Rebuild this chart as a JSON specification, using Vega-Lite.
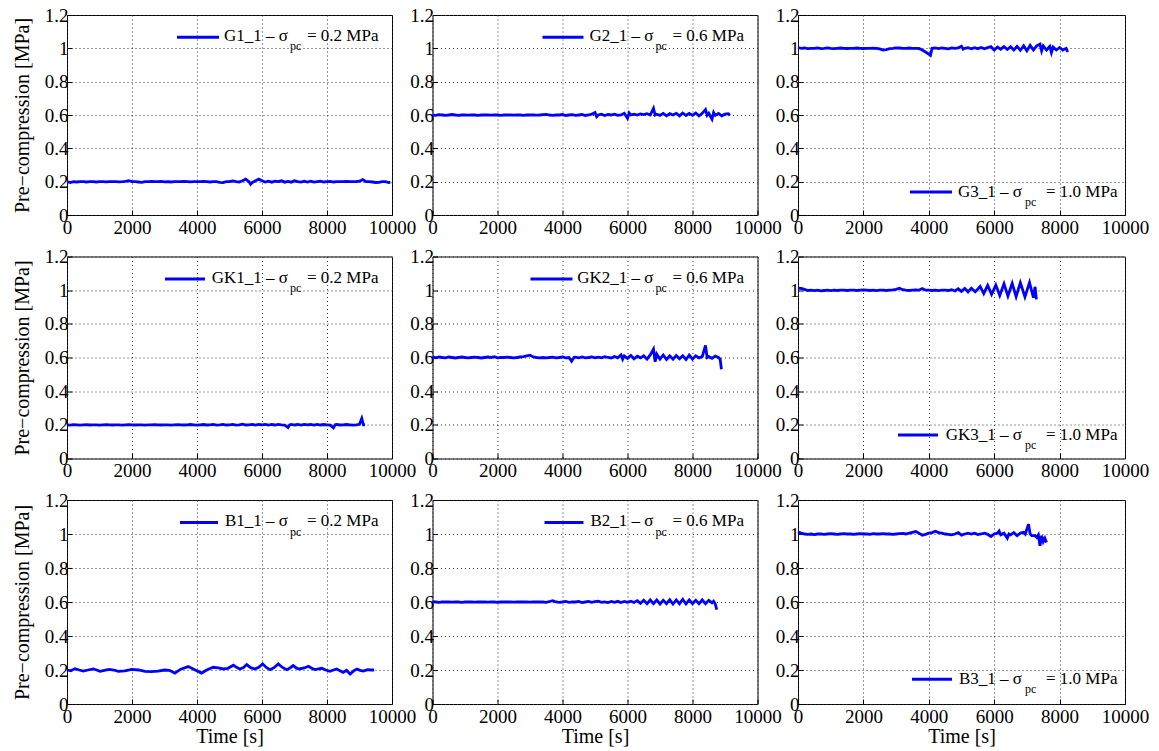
{
"$schema": "https://vega.github.io/schema/vega-lite/v6.json",
"background": "white",
"padding": {"left": 11, "top": 5, "right": 5, "bottom": 5},
"datasets": {"series": [
{"p":"G1","t":0,"v":0.2},{"p":"G1","t":100,"v":0.195},{"p":"G1","t":200,"v":0.2},{"p":"G1","t":300,"v":0.198},{"p":"G1","t":400,"v":0.2},{"p":"G1","t":500,"v":0.2},{"p":"G1","t":600,"v":0.198},{"p":"G1","t":700,"v":0.2},{"p":"G1","t":800,"v":0.2},{"p":"G1","t":900,"v":0.198},{"p":"G1","t":1000,"v":0.2},{"p":"G1","t":1100,"v":0.2},{"p":"G1","t":1200,"v":0.199},{"p":"G1","t":1300,"v":0.2},{"p":"G1","t":1400,"v":0.2},{"p":"G1","t":1500,"v":0.2},{"p":"G1","t":1600,"v":0.199},{"p":"G1","t":1700,"v":0.2},{"p":"G1","t":1800,"v":0.202},{"p":"G1","t":1900,"v":0.206},{"p":"G1","t":2000,"v":0.2},{"p":"G1","t":2100,"v":0.2},{"p":"G1","t":2200,"v":0.198},{"p":"G1","t":2300,"v":0.196},{"p":"G1","t":2400,"v":0.2},{"p":"G1","t":2500,"v":0.2},{"p":"G1","t":2600,"v":0.201},{"p":"G1","t":2700,"v":0.2},{"p":"G1","t":2800,"v":0.2},{"p":"G1","t":2900,"v":0.202},{"p":"G1","t":3000,"v":0.199},{"p":"G1","t":3100,"v":0.2},{"p":"G1","t":3200,"v":0.198},{"p":"G1","t":3300,"v":0.2},{"p":"G1","t":3400,"v":0.2},{"p":"G1","t":3500,"v":0.2},{"p":"G1","t":3600,"v":0.201},{"p":"G1","t":3700,"v":0.2},{"p":"G1","t":3800,"v":0.199},{"p":"G1","t":3900,"v":0.2},{"p":"G1","t":4000,"v":0.2},{"p":"G1","t":4100,"v":0.2},{"p":"G1","t":4200,"v":0.202},{"p":"G1","t":4300,"v":0.2},{"p":"G1","t":4400,"v":0.198},{"p":"G1","t":4500,"v":0.2},{"p":"G1","t":4600,"v":0.2},{"p":"G1","t":4700,"v":0.196},{"p":"G1","t":4800,"v":0.194},{"p":"G1","t":4900,"v":0.2},{"p":"G1","t":5000,"v":0.2},{"p":"G1","t":5100,"v":0.205},{"p":"G1","t":5200,"v":0.2},{"p":"G1","t":5300,"v":0.198},{"p":"G1","t":5400,"v":0.205},{"p":"G1","t":5500,"v":0.215},{"p":"G1","t":5600,"v":0.2},{"p":"G1","t":5650,"v":0.185},{"p":"G1","t":5700,"v":0.195},{"p":"G1","t":5800,"v":0.205},{"p":"G1","t":5900,"v":0.215},{"p":"G1","t":6000,"v":0.205},{"p":"G1","t":6100,"v":0.198},{"p":"G1","t":6200,"v":0.203},{"p":"G1","t":6300,"v":0.197},{"p":"G1","t":6400,"v":0.203},{"p":"G1","t":6500,"v":0.2},{"p":"G1","t":6600,"v":0.205},{"p":"G1","t":6700,"v":0.197},{"p":"G1","t":6800,"v":0.202},{"p":"G1","t":6900,"v":0.197},{"p":"G1","t":7000,"v":0.205},{"p":"G1","t":7100,"v":0.2},{"p":"G1","t":7200,"v":0.197},{"p":"G1","t":7300,"v":0.203},{"p":"G1","t":7400,"v":0.198},{"p":"G1","t":7500,"v":0.203},{"p":"G1","t":7600,"v":0.197},{"p":"G1","t":7700,"v":0.2},{"p":"G1","t":7800,"v":0.203},{"p":"G1","t":7900,"v":0.198},{"p":"G1","t":8000,"v":0.2},{"p":"G1","t":8100,"v":0.202},{"p":"G1","t":8200,"v":0.198},{"p":"G1","t":8300,"v":0.2},{"p":"G1","t":8400,"v":0.2},{"p":"G1","t":8500,"v":0.2},{"p":"G1","t":8600,"v":0.201},{"p":"G1","t":8700,"v":0.2},{"p":"G1","t":8800,"v":0.2},{"p":"G1","t":8900,"v":0.2},{"p":"G1","t":9000,"v":0.203},{"p":"G1","t":9100,"v":0.212},{"p":"G1","t":9200,"v":0.2},{"p":"G1","t":9300,"v":0.2},{"p":"G1","t":9400,"v":0.198},{"p":"G1","t":9500,"v":0.195},{"p":"G1","t":9600,"v":0.196},{"p":"G1","t":9700,"v":0.2},{"p":"G1","t":9800,"v":0.2},{"p":"G1","t":9900,"v":0.195},{"p":"G1","t":9950,"v":0.196},
{"p":"G2","t":0,"v":0.6},{"p":"G2","t":100,"v":0.598},{"p":"G2","t":200,"v":0.602},{"p":"G2","t":300,"v":0.6},{"p":"G2","t":400,"v":0.598},{"p":"G2","t":500,"v":0.6},{"p":"G2","t":600,"v":0.603},{"p":"G2","t":700,"v":0.6},{"p":"G2","t":800,"v":0.598},{"p":"G2","t":900,"v":0.6},{"p":"G2","t":1000,"v":0.6},{"p":"G2","t":1100,"v":0.599},{"p":"G2","t":1200,"v":0.601},{"p":"G2","t":1300,"v":0.6},{"p":"G2","t":1400,"v":0.598},{"p":"G2","t":1500,"v":0.6},{"p":"G2","t":1600,"v":0.6},{"p":"G2","t":1700,"v":0.601},{"p":"G2","t":1800,"v":0.599},{"p":"G2","t":1900,"v":0.6},{"p":"G2","t":2000,"v":0.6},{"p":"G2","t":2100,"v":0.598},{"p":"G2","t":2200,"v":0.6},{"p":"G2","t":2300,"v":0.601},{"p":"G2","t":2400,"v":0.6},{"p":"G2","t":2500,"v":0.599},{"p":"G2","t":2600,"v":0.6},{"p":"G2","t":2700,"v":0.6},{"p":"G2","t":2800,"v":0.598},{"p":"G2","t":2900,"v":0.6},{"p":"G2","t":3000,"v":0.601},{"p":"G2","t":3100,"v":0.6},{"p":"G2","t":3200,"v":0.599},{"p":"G2","t":3300,"v":0.6},{"p":"G2","t":3400,"v":0.602},{"p":"G2","t":3500,"v":0.604},{"p":"G2","t":3600,"v":0.6},{"p":"G2","t":3700,"v":0.598},{"p":"G2","t":3800,"v":0.6},{"p":"G2","t":3900,"v":0.6},{"p":"G2","t":4000,"v":0.603},{"p":"G2","t":4100,"v":0.597},{"p":"G2","t":4200,"v":0.6},{"p":"G2","t":4300,"v":0.602},{"p":"G2","t":4400,"v":0.598},{"p":"G2","t":4500,"v":0.6},{"p":"G2","t":4600,"v":0.603},{"p":"G2","t":4700,"v":0.597},{"p":"G2","t":4800,"v":0.6},{"p":"G2","t":4900,"v":0.605},{"p":"G2","t":5000,"v":0.615},{"p":"G2","t":5050,"v":0.59},{"p":"G2","t":5100,"v":0.6},{"p":"G2","t":5200,"v":0.605},{"p":"G2","t":5300,"v":0.597},{"p":"G2","t":5400,"v":0.603},{"p":"G2","t":5500,"v":0.6},{"p":"G2","t":5600,"v":0.605},{"p":"G2","t":5700,"v":0.598},{"p":"G2","t":5800,"v":0.6},{"p":"G2","t":5900,"v":0.61},{"p":"G2","t":6000,"v":0.58},{"p":"G2","t":6050,"v":0.612},{"p":"G2","t":6100,"v":0.6},{"p":"G2","t":6200,"v":0.605},{"p":"G2","t":6300,"v":0.6},{"p":"G2","t":6400,"v":0.607},{"p":"G2","t":6500,"v":0.603},{"p":"G2","t":6600,"v":0.608},{"p":"G2","t":6700,"v":0.6},{"p":"G2","t":6800,"v":0.64},{"p":"G2","t":6850,"v":0.6},{"p":"G2","t":6900,"v":0.605},{"p":"G2","t":7000,"v":0.598},{"p":"G2","t":7100,"v":0.61},{"p":"G2","t":7200,"v":0.595},{"p":"G2","t":7300,"v":0.608},{"p":"G2","t":7400,"v":0.6},{"p":"G2","t":7500,"v":0.61},{"p":"G2","t":7600,"v":0.595},{"p":"G2","t":7700,"v":0.612},{"p":"G2","t":7800,"v":0.597},{"p":"G2","t":7900,"v":0.61},{"p":"G2","t":8000,"v":0.598},{"p":"G2","t":8100,"v":0.612},{"p":"G2","t":8200,"v":0.595},{"p":"G2","t":8300,"v":0.61},{"p":"G2","t":8400,"v":0.632},{"p":"G2","t":8450,"v":0.598},{"p":"G2","t":8500,"v":0.61},{"p":"G2","t":8600,"v":0.575},{"p":"G2","t":8650,"v":0.615},{"p":"G2","t":8700,"v":0.598},{"p":"G2","t":8800,"v":0.61},{"p":"G2","t":8900,"v":0.595},{"p":"G2","t":9000,"v":0.605},{"p":"G2","t":9100,"v":0.608},{"p":"G2","t":9150,"v":0.598},
{"p":"G3","t":0,"v":1.005},{"p":"G3","t":100,"v":1.0},{"p":"G3","t":200,"v":1.002},{"p":"G3","t":300,"v":0.998},{"p":"G3","t":400,"v":1.0},{"p":"G3","t":500,"v":1.0},{"p":"G3","t":600,"v":1.002},{"p":"G3","t":700,"v":0.998},{"p":"G3","t":800,"v":1.0},{"p":"G3","t":900,"v":1.003},{"p":"G3","t":1000,"v":1.0},{"p":"G3","t":1100,"v":0.998},{"p":"G3","t":1200,"v":1.0},{"p":"G3","t":1300,"v":1.002},{"p":"G3","t":1400,"v":1.0},{"p":"G3","t":1500,"v":0.999},{"p":"G3","t":1600,"v":1.0},{"p":"G3","t":1700,"v":1.0},{"p":"G3","t":1800,"v":1.002},{"p":"G3","t":1900,"v":1.0},{"p":"G3","t":2000,"v":0.999},{"p":"G3","t":2100,"v":1.0},{"p":"G3","t":2200,"v":1.0},{"p":"G3","t":2300,"v":1.001},{"p":"G3","t":2400,"v":1.0},{"p":"G3","t":2500,"v":0.997},{"p":"G3","t":2600,"v":0.99},{"p":"G3","t":2700,"v":0.992},{"p":"G3","t":2800,"v":0.998},{"p":"G3","t":2900,"v":1.0},{"p":"G3","t":3000,"v":1.003},{"p":"G3","t":3100,"v":1.002},{"p":"G3","t":3200,"v":1.0},{"p":"G3","t":3300,"v":1.0},{"p":"G3","t":3400,"v":1.002},{"p":"G3","t":3500,"v":1.0},{"p":"G3","t":3600,"v":1.0},{"p":"G3","t":3700,"v":0.999},{"p":"G3","t":3800,"v":0.99},{"p":"G3","t":3900,"v":0.978},{"p":"G3","t":4000,"v":0.965},{"p":"G3","t":4050,"v":0.958},{"p":"G3","t":4100,"v":1.0},{"p":"G3","t":4200,"v":1.002},{"p":"G3","t":4300,"v":0.998},{"p":"G3","t":4400,"v":1.002},{"p":"G3","t":4500,"v":1.0},{"p":"G3","t":4600,"v":0.997},{"p":"G3","t":4700,"v":1.003},{"p":"G3","t":4800,"v":1.0},{"p":"G3","t":4900,"v":1.003},{"p":"G3","t":5000,"v":1.012},{"p":"G3","t":5050,"v":0.995},{"p":"G3","t":5100,"v":1.0},{"p":"G3","t":5200,"v":1.004},{"p":"G3","t":5300,"v":0.997},{"p":"G3","t":5400,"v":1.004},{"p":"G3","t":5500,"v":0.998},{"p":"G3","t":5600,"v":1.005},{"p":"G3","t":5700,"v":0.997},{"p":"G3","t":5800,"v":1.004},{"p":"G3","t":5900,"v":1.01},{"p":"G3","t":6000,"v":0.99},{"p":"G3","t":6100,"v":1.008},{"p":"G3","t":6200,"v":0.995},{"p":"G3","t":6300,"v":1.01},{"p":"G3","t":6400,"v":0.993},{"p":"G3","t":6500,"v":1.01},{"p":"G3","t":6600,"v":0.99},{"p":"G3","t":6700,"v":1.012},{"p":"G3","t":6800,"v":0.988},{"p":"G3","t":6900,"v":1.015},{"p":"G3","t":7000,"v":0.985},{"p":"G3","t":7100,"v":1.018},{"p":"G3","t":7200,"v":0.99},{"p":"G3","t":7300,"v":1.015},{"p":"G3","t":7400,"v":1.025},{"p":"G3","t":7450,"v":0.985},{"p":"G3","t":7500,"v":1.015},{"p":"G3","t":7600,"v":0.99},{"p":"G3","t":7700,"v":1.012},{"p":"G3","t":7750,"v":0.975},{"p":"G3","t":7800,"v":1.008},{"p":"G3","t":7900,"v":0.99},{"p":"G3","t":8000,"v":1.005},{"p":"G3","t":8100,"v":0.99},{"p":"G3","t":8200,"v":1.0},{"p":"G3","t":8250,"v":0.978},
{"p":"GK1","t":0,"v":0.2},{"p":"GK1","t":100,"v":0.198},{"p":"GK1","t":200,"v":0.201},{"p":"GK1","t":300,"v":0.2},{"p":"GK1","t":400,"v":0.198},{"p":"GK1","t":500,"v":0.2},{"p":"GK1","t":600,"v":0.201},{"p":"GK1","t":700,"v":0.199},{"p":"GK1","t":800,"v":0.2},{"p":"GK1","t":900,"v":0.2},{"p":"GK1","t":1000,"v":0.198},{"p":"GK1","t":1100,"v":0.2},{"p":"GK1","t":1200,"v":0.201},{"p":"GK1","t":1300,"v":0.2},{"p":"GK1","t":1400,"v":0.199},{"p":"GK1","t":1500,"v":0.2},{"p":"GK1","t":1600,"v":0.2},{"p":"GK1","t":1700,"v":0.198},{"p":"GK1","t":1800,"v":0.2},{"p":"GK1","t":1900,"v":0.201},{"p":"GK1","t":2000,"v":0.2},{"p":"GK1","t":2100,"v":0.199},{"p":"GK1","t":2200,"v":0.2},{"p":"GK1","t":2300,"v":0.2},{"p":"GK1","t":2400,"v":0.198},{"p":"GK1","t":2500,"v":0.2},{"p":"GK1","t":2600,"v":0.2},{"p":"GK1","t":2700,"v":0.201},{"p":"GK1","t":2800,"v":0.2},{"p":"GK1","t":2900,"v":0.199},{"p":"GK1","t":3000,"v":0.2},{"p":"GK1","t":3100,"v":0.2},{"p":"GK1","t":3200,"v":0.198},{"p":"GK1","t":3300,"v":0.2},{"p":"GK1","t":3400,"v":0.201},{"p":"GK1","t":3500,"v":0.2},{"p":"GK1","t":3600,"v":0.199},{"p":"GK1","t":3700,"v":0.2},{"p":"GK1","t":3800,"v":0.202},{"p":"GK1","t":3900,"v":0.2},{"p":"GK1","t":4000,"v":0.198},{"p":"GK1","t":4100,"v":0.2},{"p":"GK1","t":4200,"v":0.202},{"p":"GK1","t":4300,"v":0.199},{"p":"GK1","t":4400,"v":0.2},{"p":"GK1","t":4500,"v":0.202},{"p":"GK1","t":4600,"v":0.198},{"p":"GK1","t":4700,"v":0.2},{"p":"GK1","t":4800,"v":0.203},{"p":"GK1","t":4900,"v":0.199},{"p":"GK1","t":5000,"v":0.2},{"p":"GK1","t":5100,"v":0.203},{"p":"GK1","t":5200,"v":0.198},{"p":"GK1","t":5300,"v":0.2},{"p":"GK1","t":5400,"v":0.204},{"p":"GK1","t":5500,"v":0.199},{"p":"GK1","t":5600,"v":0.2},{"p":"GK1","t":5700,"v":0.203},{"p":"GK1","t":5800,"v":0.198},{"p":"GK1","t":5900,"v":0.202},{"p":"GK1","t":6000,"v":0.2},{"p":"GK1","t":6100,"v":0.203},{"p":"GK1","t":6200,"v":0.198},{"p":"GK1","t":6300,"v":0.202},{"p":"GK1","t":6400,"v":0.199},{"p":"GK1","t":6500,"v":0.203},{"p":"GK1","t":6600,"v":0.2},{"p":"GK1","t":6700,"v":0.198},{"p":"GK1","t":6800,"v":0.184},{"p":"GK1","t":6850,"v":0.2},{"p":"GK1","t":6900,"v":0.203},{"p":"GK1","t":7000,"v":0.199},{"p":"GK1","t":7100,"v":0.202},{"p":"GK1","t":7200,"v":0.198},{"p":"GK1","t":7300,"v":0.203},{"p":"GK1","t":7400,"v":0.2},{"p":"GK1","t":7500,"v":0.202},{"p":"GK1","t":7600,"v":0.198},{"p":"GK1","t":7700,"v":0.203},{"p":"GK1","t":7800,"v":0.199},{"p":"GK1","t":7900,"v":0.202},{"p":"GK1","t":8000,"v":0.2},{"p":"GK1","t":8100,"v":0.198},{"p":"GK1","t":8200,"v":0.182},{"p":"GK1","t":8250,"v":0.2},{"p":"GK1","t":8300,"v":0.202},{"p":"GK1","t":8400,"v":0.199},{"p":"GK1","t":8500,"v":0.2},{"p":"GK1","t":8600,"v":0.202},{"p":"GK1","t":8700,"v":0.2},{"p":"GK1","t":8800,"v":0.198},{"p":"GK1","t":8900,"v":0.2},{"p":"GK1","t":9000,"v":0.203},{"p":"GK1","t":9070,"v":0.238},{"p":"GK1","t":9120,"v":0.2},{"p":"GK1","t":9170,"v":0.2},
{"p":"GK2","t":0,"v":0.605},{"p":"GK2","t":100,"v":0.598},{"p":"GK2","t":200,"v":0.603},{"p":"GK2","t":300,"v":0.6},{"p":"GK2","t":400,"v":0.598},{"p":"GK2","t":500,"v":0.603},{"p":"GK2","t":600,"v":0.6},{"p":"GK2","t":700,"v":0.597},{"p":"GK2","t":800,"v":0.6},{"p":"GK2","t":900,"v":0.603},{"p":"GK2","t":1000,"v":0.6},{"p":"GK2","t":1100,"v":0.598},{"p":"GK2","t":1200,"v":0.6},{"p":"GK2","t":1300,"v":0.602},{"p":"GK2","t":1400,"v":0.6},{"p":"GK2","t":1500,"v":0.597},{"p":"GK2","t":1600,"v":0.6},{"p":"GK2","t":1700,"v":0.603},{"p":"GK2","t":1800,"v":0.6},{"p":"GK2","t":1900,"v":0.605},{"p":"GK2","t":2000,"v":0.598},{"p":"GK2","t":2100,"v":0.6},{"p":"GK2","t":2200,"v":0.6},{"p":"GK2","t":2300,"v":0.602},{"p":"GK2","t":2400,"v":0.6},{"p":"GK2","t":2500,"v":0.598},{"p":"GK2","t":2600,"v":0.6},{"p":"GK2","t":2700,"v":0.603},{"p":"GK2","t":2800,"v":0.605},{"p":"GK2","t":2900,"v":0.61},{"p":"GK2","t":3000,"v":0.614},{"p":"GK2","t":3100,"v":0.603},{"p":"GK2","t":3200,"v":0.6},{"p":"GK2","t":3300,"v":0.598},{"p":"GK2","t":3400,"v":0.6},{"p":"GK2","t":3500,"v":0.598},{"p":"GK2","t":3600,"v":0.6},{"p":"GK2","t":3700,"v":0.602},{"p":"GK2","t":3800,"v":0.598},{"p":"GK2","t":3900,"v":0.6},{"p":"GK2","t":4000,"v":0.603},{"p":"GK2","t":4100,"v":0.598},{"p":"GK2","t":4200,"v":0.6},{"p":"GK2","t":4280,"v":0.578},{"p":"GK2","t":4350,"v":0.6},{"p":"GK2","t":4400,"v":0.602},{"p":"GK2","t":4500,"v":0.598},{"p":"GK2","t":4600,"v":0.603},{"p":"GK2","t":4700,"v":0.598},{"p":"GK2","t":4800,"v":0.6},{"p":"GK2","t":4900,"v":0.603},{"p":"GK2","t":5000,"v":0.598},{"p":"GK2","t":5100,"v":0.602},{"p":"GK2","t":5200,"v":0.598},{"p":"GK2","t":5300,"v":0.605},{"p":"GK2","t":5400,"v":0.6},{"p":"GK2","t":5500,"v":0.597},{"p":"GK2","t":5600,"v":0.606},{"p":"GK2","t":5700,"v":0.598},{"p":"GK2","t":5800,"v":0.615},{"p":"GK2","t":5850,"v":0.59},{"p":"GK2","t":5900,"v":0.61},{"p":"GK2","t":6000,"v":0.595},{"p":"GK2","t":6100,"v":0.612},{"p":"GK2","t":6200,"v":0.592},{"p":"GK2","t":6300,"v":0.608},{"p":"GK2","t":6400,"v":0.598},{"p":"GK2","t":6500,"v":0.61},{"p":"GK2","t":6600,"v":0.59},{"p":"GK2","t":6700,"v":0.615},{"p":"GK2","t":6800,"v":0.65},{"p":"GK2","t":6850,"v":0.575},{"p":"GK2","t":6900,"v":0.62},{"p":"GK2","t":7000,"v":0.59},{"p":"GK2","t":7100,"v":0.615},{"p":"GK2","t":7200,"v":0.588},{"p":"GK2","t":7300,"v":0.61},{"p":"GK2","t":7400,"v":0.59},{"p":"GK2","t":7500,"v":0.612},{"p":"GK2","t":7600,"v":0.592},{"p":"GK2","t":7700,"v":0.61},{"p":"GK2","t":7800,"v":0.588},{"p":"GK2","t":7900,"v":0.615},{"p":"GK2","t":8000,"v":0.59},{"p":"GK2","t":8100,"v":0.61},{"p":"GK2","t":8200,"v":0.598},{"p":"GK2","t":8300,"v":0.605},{"p":"GK2","t":8400,"v":0.672},{"p":"GK2","t":8450,"v":0.6},{"p":"GK2","t":8500,"v":0.605},{"p":"GK2","t":8600,"v":0.595},{"p":"GK2","t":8700,"v":0.608},{"p":"GK2","t":8800,"v":0.6},{"p":"GK2","t":8850,"v":0.59},{"p":"GK2","t":8890,"v":0.53},
{"p":"GK3","t":0,"v":1.012},{"p":"GK3","t":100,"v":1.01},{"p":"GK3","t":200,"v":1.005},{"p":"GK3","t":300,"v":0.998},{"p":"GK3","t":400,"v":1.0},{"p":"GK3","t":500,"v":0.997},{"p":"GK3","t":600,"v":1.0},{"p":"GK3","t":700,"v":0.996},{"p":"GK3","t":800,"v":0.998},{"p":"GK3","t":900,"v":1.0},{"p":"GK3","t":1000,"v":0.997},{"p":"GK3","t":1100,"v":1.0},{"p":"GK3","t":1200,"v":0.998},{"p":"GK3","t":1300,"v":1.0},{"p":"GK3","t":1400,"v":1.0},{"p":"GK3","t":1500,"v":0.998},{"p":"GK3","t":1600,"v":1.0},{"p":"GK3","t":1700,"v":1.0},{"p":"GK3","t":1800,"v":0.998},{"p":"GK3","t":1900,"v":1.0},{"p":"GK3","t":2000,"v":1.002},{"p":"GK3","t":2100,"v":1.0},{"p":"GK3","t":2200,"v":0.998},{"p":"GK3","t":2300,"v":1.0},{"p":"GK3","t":2400,"v":0.997},{"p":"GK3","t":2500,"v":1.0},{"p":"GK3","t":2600,"v":1.0},{"p":"GK3","t":2700,"v":0.998},{"p":"GK3","t":2800,"v":1.0},{"p":"GK3","t":2900,"v":1.002},{"p":"GK3","t":3000,"v":1.005},{"p":"GK3","t":3100,"v":1.012},{"p":"GK3","t":3200,"v":1.003},{"p":"GK3","t":3300,"v":1.0},{"p":"GK3","t":3400,"v":0.998},{"p":"GK3","t":3500,"v":1.0},{"p":"GK3","t":3600,"v":1.002},{"p":"GK3","t":3700,"v":1.0},{"p":"GK3","t":3800,"v":1.01},{"p":"GK3","t":3900,"v":1.0},{"p":"GK3","t":4000,"v":1.0},{"p":"GK3","t":4100,"v":0.998},{"p":"GK3","t":4200,"v":1.0},{"p":"GK3","t":4300,"v":0.997},{"p":"GK3","t":4400,"v":1.0},{"p":"GK3","t":4500,"v":1.0},{"p":"GK3","t":4600,"v":0.998},{"p":"GK3","t":4700,"v":1.003},{"p":"GK3","t":4800,"v":0.995},{"p":"GK3","t":4900,"v":1.008},{"p":"GK3","t":5000,"v":0.993},{"p":"GK3","t":5100,"v":1.01},{"p":"GK3","t":5200,"v":0.99},{"p":"GK3","t":5300,"v":1.012},{"p":"GK3","t":5420,"v":0.99},{"p":"GK3","t":5570,"v":1.022},{"p":"GK3","t":5680,"v":0.98},{"p":"GK3","t":5800,"v":1.028},{"p":"GK3","t":5920,"v":0.975},{"p":"GK3","t":6050,"v":1.03},{"p":"GK3","t":6170,"v":0.968},{"p":"GK3","t":6300,"v":1.038},{"p":"GK3","t":6420,"v":0.965},{"p":"GK3","t":6550,"v":1.04},{"p":"GK3","t":6670,"v":0.962},{"p":"GK3","t":6800,"v":1.045},{"p":"GK3","t":6940,"v":0.96},{"p":"GK3","t":7080,"v":1.045},{"p":"GK3","t":7200,"v":0.955},{"p":"GK3","t":7250,"v":1.02},{"p":"GK3","t":7290,"v":0.945},
{"p":"B1","t":0,"v":0.2},{"p":"B1","t":120,"v":0.195},{"p":"B1","t":245,"v":0.208},{"p":"B1","t":380,"v":0.2},{"p":"B1","t":500,"v":0.194},{"p":"B1","t":650,"v":0.2},{"p":"B1","t":810,"v":0.206},{"p":"B1","t":910,"v":0.2},{"p":"B1","t":1015,"v":0.192},{"p":"B1","t":1150,"v":0.198},{"p":"B1","t":1300,"v":0.204},{"p":"B1","t":1440,"v":0.2},{"p":"B1","t":1580,"v":0.192},{"p":"B1","t":1780,"v":0.195},{"p":"B1","t":1990,"v":0.204},{"p":"B1","t":2200,"v":0.2},{"p":"B1","t":2400,"v":0.192},{"p":"B1","t":2600,"v":0.19},{"p":"B1","t":2800,"v":0.193},{"p":"B1","t":3000,"v":0.2},{"p":"B1","t":3150,"v":0.198},{"p":"B1","t":3320,"v":0.182},{"p":"B1","t":3500,"v":0.205},{"p":"B1","t":3730,"v":0.22},{"p":"B1","t":3900,"v":0.205},{"p":"B1","t":4140,"v":0.182},{"p":"B1","t":4300,"v":0.2},{"p":"B1","t":4500,"v":0.216},{"p":"B1","t":4650,"v":0.212},{"p":"B1","t":4810,"v":0.206},{"p":"B1","t":4950,"v":0.21},{"p":"B1","t":5120,"v":0.228},{"p":"B1","t":5230,"v":0.214},{"p":"B1","t":5320,"v":0.206},{"p":"B1","t":5430,"v":0.215},{"p":"B1","t":5530,"v":0.232},{"p":"B1","t":5650,"v":0.214},{"p":"B1","t":5780,"v":0.206},{"p":"B1","t":5900,"v":0.216},{"p":"B1","t":6020,"v":0.236},{"p":"B1","t":6130,"v":0.215},{"p":"B1","t":6250,"v":0.202},{"p":"B1","t":6380,"v":0.215},{"p":"B1","t":6500,"v":0.236},{"p":"B1","t":6630,"v":0.215},{"p":"B1","t":6760,"v":0.202},{"p":"B1","t":6860,"v":0.212},{"p":"B1","t":6960,"v":0.226},{"p":"B1","t":7050,"v":0.212},{"p":"B1","t":7150,"v":0.206},{"p":"B1","t":7300,"v":0.212},{"p":"B1","t":7430,"v":0.222},{"p":"B1","t":7530,"v":0.21},{"p":"B1","t":7630,"v":0.202},{"p":"B1","t":7740,"v":0.206},{"p":"B1","t":7840,"v":0.21},{"p":"B1","t":7960,"v":0.2},{"p":"B1","t":8090,"v":0.192},{"p":"B1","t":8200,"v":0.2},{"p":"B1","t":8300,"v":0.206},{"p":"B1","t":8400,"v":0.196},{"p":"B1","t":8500,"v":0.186},{"p":"B1","t":8600,"v":0.198},{"p":"B1","t":8710,"v":0.176},{"p":"B1","t":8820,"v":0.195},{"p":"B1","t":8920,"v":0.206},{"p":"B1","t":9020,"v":0.198},{"p":"B1","t":9120,"v":0.194},{"p":"B1","t":9250,"v":0.202},{"p":"B1","t":9350,"v":0.2},{"p":"B1","t":9450,"v":0.2},
{"p":"B2","t":0,"v":0.602},{"p":"B2","t":100,"v":0.6},{"p":"B2","t":200,"v":0.598},{"p":"B2","t":300,"v":0.6},{"p":"B2","t":400,"v":0.6},{"p":"B2","t":500,"v":0.601},{"p":"B2","t":600,"v":0.599},{"p":"B2","t":700,"v":0.6},{"p":"B2","t":800,"v":0.6},{"p":"B2","t":900,"v":0.598},{"p":"B2","t":1000,"v":0.6},{"p":"B2","t":1100,"v":0.601},{"p":"B2","t":1200,"v":0.6},{"p":"B2","t":1300,"v":0.599},{"p":"B2","t":1400,"v":0.6},{"p":"B2","t":1500,"v":0.6},{"p":"B2","t":1600,"v":0.601},{"p":"B2","t":1700,"v":0.599},{"p":"B2","t":1800,"v":0.6},{"p":"B2","t":1900,"v":0.6},{"p":"B2","t":2000,"v":0.598},{"p":"B2","t":2100,"v":0.6},{"p":"B2","t":2200,"v":0.601},{"p":"B2","t":2300,"v":0.6},{"p":"B2","t":2400,"v":0.6},{"p":"B2","t":2500,"v":0.599},{"p":"B2","t":2600,"v":0.6},{"p":"B2","t":2700,"v":0.6},{"p":"B2","t":2800,"v":0.601},{"p":"B2","t":2900,"v":0.6},{"p":"B2","t":3000,"v":0.599},{"p":"B2","t":3100,"v":0.6},{"p":"B2","t":3200,"v":0.6},{"p":"B2","t":3300,"v":0.601},{"p":"B2","t":3400,"v":0.6},{"p":"B2","t":3500,"v":0.598},{"p":"B2","t":3600,"v":0.603},{"p":"B2","t":3700,"v":0.608},{"p":"B2","t":3800,"v":0.6},{"p":"B2","t":3900,"v":0.598},{"p":"B2","t":4000,"v":0.6},{"p":"B2","t":4100,"v":0.603},{"p":"B2","t":4200,"v":0.598},{"p":"B2","t":4300,"v":0.601},{"p":"B2","t":4400,"v":0.6},{"p":"B2","t":4500,"v":0.603},{"p":"B2","t":4600,"v":0.597},{"p":"B2","t":4700,"v":0.6},{"p":"B2","t":4800,"v":0.603},{"p":"B2","t":4900,"v":0.598},{"p":"B2","t":5000,"v":0.602},{"p":"B2","t":5100,"v":0.605},{"p":"B2","t":5200,"v":0.598},{"p":"B2","t":5300,"v":0.601},{"p":"B2","t":5400,"v":0.597},{"p":"B2","t":5500,"v":0.603},{"p":"B2","t":5600,"v":0.598},{"p":"B2","t":5700,"v":0.604},{"p":"B2","t":5800,"v":0.597},{"p":"B2","t":5900,"v":0.603},{"p":"B2","t":6000,"v":0.598},{"p":"B2","t":6100,"v":0.605},{"p":"B2","t":6200,"v":0.597},{"p":"B2","t":6300,"v":0.608},{"p":"B2","t":6400,"v":0.592},{"p":"B2","t":6500,"v":0.61},{"p":"B2","t":6600,"v":0.59},{"p":"B2","t":6700,"v":0.612},{"p":"B2","t":6800,"v":0.59},{"p":"B2","t":6900,"v":0.612},{"p":"B2","t":7000,"v":0.588},{"p":"B2","t":7100,"v":0.61},{"p":"B2","t":7200,"v":0.59},{"p":"B2","t":7300,"v":0.613},{"p":"B2","t":7400,"v":0.588},{"p":"B2","t":7500,"v":0.612},{"p":"B2","t":7600,"v":0.59},{"p":"B2","t":7700,"v":0.615},{"p":"B2","t":7800,"v":0.588},{"p":"B2","t":7900,"v":0.612},{"p":"B2","t":8000,"v":0.59},{"p":"B2","t":8100,"v":0.61},{"p":"B2","t":8200,"v":0.59},{"p":"B2","t":8300,"v":0.612},{"p":"B2","t":8400,"v":0.59},{"p":"B2","t":8500,"v":0.61},{"p":"B2","t":8600,"v":0.595},{"p":"B2","t":8650,"v":0.605},{"p":"B2","t":8700,"v":0.59},{"p":"B2","t":8745,"v":0.555},
{"p":"B3","t":0,"v":1.012},{"p":"B3","t":100,"v":1.005},{"p":"B3","t":200,"v":1.0},{"p":"B3","t":300,"v":0.998},{"p":"B3","t":400,"v":1.0},{"p":"B3","t":500,"v":0.997},{"p":"B3","t":600,"v":1.0},{"p":"B3","t":700,"v":1.0},{"p":"B3","t":800,"v":0.998},{"p":"B3","t":900,"v":1.0},{"p":"B3","t":1000,"v":1.002},{"p":"B3","t":1100,"v":1.0},{"p":"B3","t":1200,"v":0.998},{"p":"B3","t":1300,"v":1.0},{"p":"B3","t":1400,"v":1.002},{"p":"B3","t":1500,"v":1.0},{"p":"B3","t":1600,"v":1.0},{"p":"B3","t":1700,"v":0.998},{"p":"B3","t":1800,"v":1.0},{"p":"B3","t":1900,"v":1.002},{"p":"B3","t":2000,"v":1.0},{"p":"B3","t":2100,"v":1.0},{"p":"B3","t":2200,"v":0.998},{"p":"B3","t":2300,"v":1.002},{"p":"B3","t":2400,"v":1.0},{"p":"B3","t":2500,"v":1.0},{"p":"B3","t":2600,"v":1.002},{"p":"B3","t":2700,"v":1.0},{"p":"B3","t":2800,"v":1.0},{"p":"B3","t":2900,"v":0.998},{"p":"B3","t":3000,"v":1.0},{"p":"B3","t":3100,"v":1.002},{"p":"B3","t":3200,"v":1.003},{"p":"B3","t":3300,"v":1.0},{"p":"B3","t":3400,"v":1.005},{"p":"B3","t":3500,"v":1.01},{"p":"B3","t":3600,"v":1.015},{"p":"B3","t":3700,"v":1.005},{"p":"B3","t":3800,"v":0.993},{"p":"B3","t":3900,"v":0.998},{"p":"B3","t":4000,"v":1.005},{"p":"B3","t":4100,"v":1.008},{"p":"B3","t":4200,"v":1.016},{"p":"B3","t":4300,"v":1.008},{"p":"B3","t":4400,"v":1.005},{"p":"B3","t":4500,"v":1.0},{"p":"B3","t":4600,"v":0.998},{"p":"B3","t":4700,"v":0.995},{"p":"B3","t":4800,"v":1.0},{"p":"B3","t":4900,"v":1.008},{"p":"B3","t":5000,"v":0.993},{"p":"B3","t":5100,"v":1.0},{"p":"B3","t":5200,"v":1.005},{"p":"B3","t":5300,"v":1.0},{"p":"B3","t":5400,"v":1.005},{"p":"B3","t":5500,"v":0.997},{"p":"B3","t":5600,"v":1.0},{"p":"B3","t":5700,"v":1.005},{"p":"B3","t":5800,"v":0.998},{"p":"B3","t":5900,"v":0.985},{"p":"B3","t":6000,"v":1.0},{"p":"B3","t":6100,"v":1.005},{"p":"B3","t":6150,"v":1.018},{"p":"B3","t":6200,"v":0.995},{"p":"B3","t":6300,"v":1.005},{"p":"B3","t":6400,"v":0.975},{"p":"B3","t":6450,"v":1.0},{"p":"B3","t":6500,"v":0.995},{"p":"B3","t":6600,"v":1.008},{"p":"B3","t":6700,"v":0.99},{"p":"B3","t":6800,"v":1.005},{"p":"B3","t":6900,"v":1.01},{"p":"B3","t":6950,"v":1.0},{"p":"B3","t":7050,"v":1.058},{"p":"B3","t":7100,"v":1.0},{"p":"B3","t":7150,"v":0.99},{"p":"B3","t":7250,"v":0.99},{"p":"B3","t":7300,"v":0.98},{"p":"B3","t":7350,"v":0.995},{"p":"B3","t":7400,"v":0.93},{"p":"B3","t":7450,"v":0.99},{"p":"B3","t":7500,"v":0.955},{"p":"B3","t":7550,"v":0.975},{"p":"B3","t":7600,"v":0.95}
]},
"concat": [
{"width": 325, "height": 200, "layer": [
 {"data": {"name": "series"}, "transform": [{"filter": "datum.p == 'G1'"}], "mark": {"type": "line", "color": "#0000ff", "strokeWidth": 2.8},
  "encoding": {"x": {"field": "t", "type": "quantitative", "scale": {"domain": [0, 10000], "nice": false}, "axis": {"values": [0, 2000, 4000, 6000, 8000, 10000], "tickCount": 6, "format": "d", "title": null}},
   "y": {"field": "v", "type": "quantitative", "scale": {"domain": [0, 1.2], "nice": false}, "axis": {"values": [0, 0.2, 0.4, 0.6, 0.8, 1, 1.2], "tickCount": 7, "format": "~g", "title": "Pre−compression [MPa]"}}}},
 {"data": {"values": [{}]}, "mark": {"type": "rule", "color": "#0000ff", "strokeWidth": 3}, "encoding": {"x": {"datum": 3385}, "x2": {"datum": 4677}, "y": {"datum": 1.067}}},
 {"data": {"values": [{}]}, "mark": {"type": "text", "text": "G1_1 – σ", "align": "right", "baseline": "alphabetic", "fontSize": 17}, "encoding": {"x": {"datum": 6800}, "y": {"datum": 1.045}}},
 {"data": {"values": [{}]}, "mark": {"type": "text", "text": "pc", "align": "left", "baseline": "alphabetic", "fontSize": 12}, "encoding": {"x": {"datum": 6862}, "y": {"datum": 0.99}}},
 {"data": {"values": [{}]}, "mark": {"type": "text", "text": "= 0.2 MPa", "align": "left", "baseline": "alphabetic", "fontSize": 17}, "encoding": {"x": {"datum": 7385}, "y": {"datum": 1.045}}}
]},
{"width": 325, "height": 200, "layer": [
 {"data": {"name": "series"}, "transform": [{"filter": "datum.p == 'G2'"}], "mark": {"type": "line", "color": "#0000ff", "strokeWidth": 2.8},
  "encoding": {"x": {"field": "t", "type": "quantitative", "scale": {"domain": [0, 10000], "nice": false}, "axis": {"values": [0, 2000, 4000, 6000, 8000, 10000], "tickCount": 6, "format": "d", "title": null}},
   "y": {"field": "v", "type": "quantitative", "scale": {"domain": [0, 1.2], "nice": false}, "axis": {"values": [0, 0.2, 0.4, 0.6, 0.8, 1, 1.2], "tickCount": 7, "format": "~g", "title": null}}}},
 {"data": {"values": [{}]}, "mark": {"type": "rule", "color": "#0000ff", "strokeWidth": 3}, "encoding": {"x": {"datum": 3385}, "x2": {"datum": 4646}, "y": {"datum": 1.067}}},
 {"data": {"values": [{}]}, "mark": {"type": "text", "text": "G2_1 – σ", "align": "right", "baseline": "alphabetic", "fontSize": 17}, "encoding": {"x": {"datum": 6800}, "y": {"datum": 1.045}}},
 {"data": {"values": [{}]}, "mark": {"type": "text", "text": "pc", "align": "left", "baseline": "alphabetic", "fontSize": 12}, "encoding": {"x": {"datum": 6862}, "y": {"datum": 0.99}}},
 {"data": {"values": [{}]}, "mark": {"type": "text", "text": "= 0.6 MPa", "align": "left", "baseline": "alphabetic", "fontSize": 17}, "encoding": {"x": {"datum": 7385}, "y": {"datum": 1.045}}}
]},
{"width": 327, "height": 200, "layer": [
 {"data": {"name": "series"}, "transform": [{"filter": "datum.p == 'G3'"}], "mark": {"type": "line", "color": "#0000ff", "strokeWidth": 2.8},
  "encoding": {"x": {"field": "t", "type": "quantitative", "scale": {"domain": [0, 10000], "nice": false}, "axis": {"values": [0, 2000, 4000, 6000, 8000, 10000], "tickCount": 6, "format": "d", "title": null}},
   "y": {"field": "v", "type": "quantitative", "scale": {"domain": [0, 1.2], "nice": false}, "axis": {"values": [0, 0.2, 0.4, 0.6, 0.8, 1, 1.2], "tickCount": 7, "format": "~g", "title": null}}}},
 {"data": {"values": [{}]}, "mark": {"type": "rule", "color": "#0000ff", "strokeWidth": 3}, "encoding": {"x": {"datum": 3425}, "x2": {"datum": 4709}, "y": {"datum": 0.138}}},
 {"data": {"values": [{}]}, "mark": {"type": "text", "text": "G3_1 – σ", "align": "right", "baseline": "alphabetic", "fontSize": 17}, "encoding": {"x": {"datum": 6850}, "y": {"datum": 0.11}}},
 {"data": {"values": [{}]}, "mark": {"type": "text", "text": "pc", "align": "left", "baseline": "alphabetic", "fontSize": 12}, "encoding": {"x": {"datum": 6942}, "y": {"datum": 0.055}}},
 {"data": {"values": [{}]}, "mark": {"type": "text", "text": "= 1.0 MPa", "align": "left", "baseline": "alphabetic", "fontSize": 17}, "encoding": {"x": {"datum": 7584}, "y": {"datum": 0.11}}}
]},
{"width": 325, "height": 202, "layer": [
 {"data": {"name": "series"}, "transform": [{"filter": "datum.p == 'GK1'"}], "mark": {"type": "line", "color": "#0000ff", "strokeWidth": 2.8},
  "encoding": {"x": {"field": "t", "type": "quantitative", "scale": {"domain": [0, 10000], "nice": false}, "axis": {"values": [0, 2000, 4000, 6000, 8000, 10000], "tickCount": 6, "format": "d", "title": null}},
   "y": {"field": "v", "type": "quantitative", "scale": {"domain": [0, 1.2], "nice": false}, "axis": {"values": [0, 0.2, 0.4, 0.6, 0.8, 1, 1.2], "tickCount": 7, "format": "~g", "title": "Pre−compression [MPa]"}}}},
 {"data": {"values": [{}]}, "mark": {"type": "rule", "color": "#0000ff", "strokeWidth": 3}, "encoding": {"x": {"datum": 3015}, "x2": {"datum": 4246}, "y": {"datum": 1.067}}},
 {"data": {"values": [{}]}, "mark": {"type": "text", "text": "GK1_1 – σ", "align": "right", "baseline": "alphabetic", "fontSize": 17}, "encoding": {"x": {"datum": 6800}, "y": {"datum": 1.045}}},
 {"data": {"values": [{}]}, "mark": {"type": "text", "text": "pc", "align": "left", "baseline": "alphabetic", "fontSize": 12}, "encoding": {"x": {"datum": 6862}, "y": {"datum": 0.99}}},
 {"data": {"values": [{}]}, "mark": {"type": "text", "text": "= 0.2 MPa", "align": "left", "baseline": "alphabetic", "fontSize": 17}, "encoding": {"x": {"datum": 7385}, "y": {"datum": 1.045}}}
]},
{"width": 325, "height": 202, "layer": [
 {"data": {"name": "series"}, "transform": [{"filter": "datum.p == 'GK2'"}], "mark": {"type": "line", "color": "#0000ff", "strokeWidth": 2.8},
  "encoding": {"x": {"field": "t", "type": "quantitative", "scale": {"domain": [0, 10000], "nice": false}, "axis": {"values": [0, 2000, 4000, 6000, 8000, 10000], "tickCount": 6, "format": "d", "title": null}},
   "y": {"field": "v", "type": "quantitative", "scale": {"domain": [0, 1.2], "nice": false}, "axis": {"values": [0, 0.2, 0.4, 0.6, 0.8, 1, 1.2], "tickCount": 7, "format": "~g", "title": null}}}},
 {"data": {"values": [{}]}, "mark": {"type": "rule", "color": "#0000ff", "strokeWidth": 3}, "encoding": {"x": {"datum": 3015}, "x2": {"datum": 4308}, "y": {"datum": 1.067}}},
 {"data": {"values": [{}]}, "mark": {"type": "text", "text": "GK2_1 – σ", "align": "right", "baseline": "alphabetic", "fontSize": 17}, "encoding": {"x": {"datum": 6800}, "y": {"datum": 1.045}}},
 {"data": {"values": [{}]}, "mark": {"type": "text", "text": "pc", "align": "left", "baseline": "alphabetic", "fontSize": 12}, "encoding": {"x": {"datum": 6862}, "y": {"datum": 0.99}}},
 {"data": {"values": [{}]}, "mark": {"type": "text", "text": "= 0.6 MPa", "align": "left", "baseline": "alphabetic", "fontSize": 17}, "encoding": {"x": {"datum": 7385}, "y": {"datum": 1.045}}}
]},
{"width": 327, "height": 202, "layer": [
 {"data": {"name": "series"}, "transform": [{"filter": "datum.p == 'GK3'"}], "mark": {"type": "line", "color": "#0000ff", "strokeWidth": 2.8},
  "encoding": {"x": {"field": "t", "type": "quantitative", "scale": {"domain": [0, 10000], "nice": false}, "axis": {"values": [0, 2000, 4000, 6000, 8000, 10000], "tickCount": 6, "format": "d", "title": null}},
   "y": {"field": "v", "type": "quantitative", "scale": {"domain": [0, 1.2], "nice": false}, "axis": {"values": [0, 0.2, 0.4, 0.6, 0.8, 1, 1.2], "tickCount": 7, "format": "~g", "title": null}}}},
 {"data": {"values": [{}]}, "mark": {"type": "rule", "color": "#0000ff", "strokeWidth": 3}, "encoding": {"x": {"datum": 3058}, "x2": {"datum": 4281}, "y": {"datum": 0.14}}},
 {"data": {"values": [{}]}, "mark": {"type": "text", "text": "GK3_1 – σ", "align": "right", "baseline": "alphabetic", "fontSize": 17}, "encoding": {"x": {"datum": 6850}, "y": {"datum": 0.112}}},
 {"data": {"values": [{}]}, "mark": {"type": "text", "text": "pc", "align": "left", "baseline": "alphabetic", "fontSize": 12}, "encoding": {"x": {"datum": 6942}, "y": {"datum": 0.057}}},
 {"data": {"values": [{}]}, "mark": {"type": "text", "text": "= 1.0 MPa", "align": "left", "baseline": "alphabetic", "fontSize": 17}, "encoding": {"x": {"datum": 7584}, "y": {"datum": 0.112}}}
]},
{"width": 325, "height": 204, "layer": [
 {"data": {"name": "series"}, "transform": [{"filter": "datum.p == 'B1'"}], "mark": {"type": "line", "color": "#0000ff", "strokeWidth": 2.8},
  "encoding": {"x": {"field": "t", "type": "quantitative", "scale": {"domain": [0, 10000], "nice": false}, "axis": {"values": [0, 2000, 4000, 6000, 8000, 10000], "tickCount": 6, "format": "d", "title": "Time [s]"}},
   "y": {"field": "v", "type": "quantitative", "scale": {"domain": [0, 1.2], "nice": false}, "axis": {"values": [0, 0.2, 0.4, 0.6, 0.8, 1, 1.2], "tickCount": 7, "format": "~g", "title": "Pre−compression [MPa]"}}}},
 {"data": {"values": [{}]}, "mark": {"type": "rule", "color": "#0000ff", "strokeWidth": 3}, "encoding": {"x": {"datum": 3477}, "x2": {"datum": 4646}, "y": {"datum": 1.067}}},
 {"data": {"values": [{}]}, "mark": {"type": "text", "text": "B1_1 – σ", "align": "right", "baseline": "alphabetic", "fontSize": 17}, "encoding": {"x": {"datum": 6800}, "y": {"datum": 1.045}}},
 {"data": {"values": [{}]}, "mark": {"type": "text", "text": "pc", "align": "left", "baseline": "alphabetic", "fontSize": 12}, "encoding": {"x": {"datum": 6862}, "y": {"datum": 0.99}}},
 {"data": {"values": [{}]}, "mark": {"type": "text", "text": "= 0.2 MPa", "align": "left", "baseline": "alphabetic", "fontSize": 17}, "encoding": {"x": {"datum": 7385}, "y": {"datum": 1.045}}}
]},
{"width": 325, "height": 204, "layer": [
 {"data": {"name": "series"}, "transform": [{"filter": "datum.p == 'B2'"}], "mark": {"type": "line", "color": "#0000ff", "strokeWidth": 2.8},
  "encoding": {"x": {"field": "t", "type": "quantitative", "scale": {"domain": [0, 10000], "nice": false}, "axis": {"values": [0, 2000, 4000, 6000, 8000, 10000], "tickCount": 6, "format": "d", "title": "Time [s]"}},
   "y": {"field": "v", "type": "quantitative", "scale": {"domain": [0, 1.2], "nice": false}, "axis": {"values": [0, 0.2, 0.4, 0.6, 0.8, 1, 1.2], "tickCount": 7, "format": "~g", "title": null}}}},
 {"data": {"values": [{}]}, "mark": {"type": "rule", "color": "#0000ff", "strokeWidth": 3}, "encoding": {"x": {"datum": 3446}, "x2": {"datum": 4646}, "y": {"datum": 1.067}}},
 {"data": {"values": [{}]}, "mark": {"type": "text", "text": "B2_1 – σ", "align": "right", "baseline": "alphabetic", "fontSize": 17}, "encoding": {"x": {"datum": 6800}, "y": {"datum": 1.045}}},
 {"data": {"values": [{}]}, "mark": {"type": "text", "text": "pc", "align": "left", "baseline": "alphabetic", "fontSize": 12}, "encoding": {"x": {"datum": 6862}, "y": {"datum": 0.99}}},
 {"data": {"values": [{}]}, "mark": {"type": "text", "text": "= 0.6 MPa", "align": "left", "baseline": "alphabetic", "fontSize": 17}, "encoding": {"x": {"datum": 7385}, "y": {"datum": 1.045}}}
]},
{"width": 327, "height": 204, "layer": [
 {"data": {"name": "series"}, "transform": [{"filter": "datum.p == 'B3'"}], "mark": {"type": "line", "color": "#0000ff", "strokeWidth": 2.8},
  "encoding": {"x": {"field": "t", "type": "quantitative", "scale": {"domain": [0, 10000], "nice": false}, "axis": {"values": [0, 2000, 4000, 6000, 8000, 10000], "tickCount": 6, "format": "d", "title": "Time [s]"}},
   "y": {"field": "v", "type": "quantitative", "scale": {"domain": [0, 1.2], "nice": false}, "axis": {"values": [0, 0.2, 0.4, 0.6, 0.8, 1, 1.2], "tickCount": 7, "format": "~g", "title": null}}}},
 {"data": {"values": [{}]}, "mark": {"type": "rule", "color": "#0000ff", "strokeWidth": 3}, "encoding": {"x": {"datum": 3486}, "x2": {"datum": 4709}, "y": {"datum": 0.146}}},
 {"data": {"values": [{}]}, "mark": {"type": "text", "text": "B3_1 – σ", "align": "right", "baseline": "alphabetic", "fontSize": 17}, "encoding": {"x": {"datum": 6850}, "y": {"datum": 0.118}}},
 {"data": {"values": [{}]}, "mark": {"type": "text", "text": "pc", "align": "left", "baseline": "alphabetic", "fontSize": 12}, "encoding": {"x": {"datum": 6942}, "y": {"datum": 0.063}}},
 {"data": {"values": [{}]}, "mark": {"type": "text", "text": "= 1.0 MPa", "align": "left", "baseline": "alphabetic", "fontSize": 17}, "encoding": {"x": {"datum": 7584}, "y": {"datum": 0.118}}}
]}
],
"columns": 3,
"spacing": {"row": 41.5, "column": 40.5},
"bounds": "flush",
"config": {
 "font": "Liberation Serif",
 "view": {"stroke": "black", "strokeWidth": 1},
 "axis": {"labelFont": "Liberation Serif", "labelFontSize": 19, "labelColor": "black", "titleFont": "Liberation Serif", "titleFontSize": 20, "titleFontWeight": "normal", "titleColor": "black", "grid": true, "gridColor": "#333333", "gridDash": [1, 3], "gridOpacity": 1, "gridWidth": 1, "domain": false, "ticks": true, "tickColor": "black", "tickSize": -5, "labelFlush": false, "labelOverlap": false, "labelBound": false},
 "axisX": {"labelPadding": 8, "titlePadding": 0},
 "axisY": {"labelPadding": 4, "titlePadding": 12},
 "text": {"font": "Liberation Serif", "color": "black"}
}
}
